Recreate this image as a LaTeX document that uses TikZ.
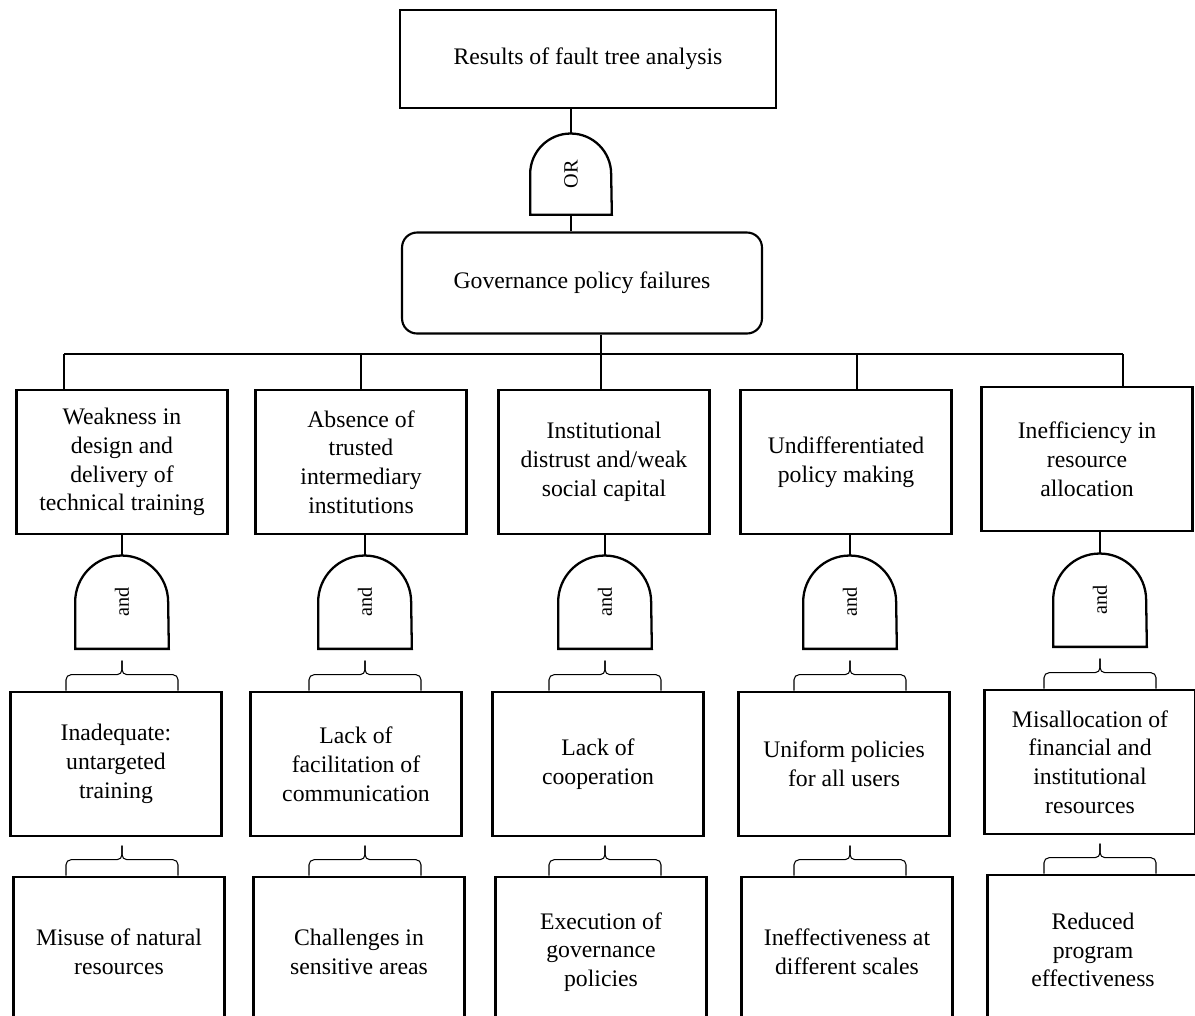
\documentclass[tikz,border=0pt]{standalone}
\usepackage{fontspec}
\setmainfont{Liberation Serif}
\usepackage{graphicx}
\usepackage{tikz}

\begin{document}
\begin{tikzpicture}[x=0.02cm, y=-0.02cm,
	box/.style={rectangle, draw=black, line width=1.5pt, align=center, inner sep=4pt,
	            minimum width=4.22cm, minimum height=2.88cm, font=\fontsize{13.5}{16.4}\selectfont},
	topbox/.style={box, minimum width=7.52cm, minimum height=1.96cm},
	govbox/.style={box, rounded corners=0.3cm, line width=1.2pt, minimum width=7.2cm, minimum height=2.02cm},
	lowbox/.style={box, minimum height=3cm},
	gate/.style={rectangle, inner sep=0pt, minimum width=#1, minimum height=#1,
	             font=\fontsize{11.5}{13}\selectfont},
	gateline/.style={draw=black, line width=1.3pt},
	link/.style={draw=black, line width=0.6pt},
	brc/.pic={
		\draw[link, rounded corners=0.1cm] (-56,0) -- (-56,-16) -- (0,-16) -- (0,-30);
		\draw[link, rounded corners=0.1cm] (56,0) -- (56,-16) -- (0,-16) -- (0,-30);
	}
	]
\useasboundingbox (0,0) rectangle (1195,1015);

% Kopf des Baums
\node[topbox] (top) at (588,59) {Results of fault tree analysis};
\node[gate=1.62cm] (gor) at (571,174) {\rotatebox{90}{OR}};
\node[govbox] (gov) at (582,283) {Governance policy failures};
\draw[gateline] (gor.south west) -- (gor.west) arc[start angle=180, end angle=0, radius=0.81cm] -- (gor.south east) -- cycle;
\draw[link] (top.south -| gor.north) -- (gor.north);
\draw[link] (gor.south) -- (gor.south |- gov.north);

% Ursachen
\node[box] (c1) at (122,462)  {Weakness in\\ design and\\ delivery of\\ technical training};
\node[box] (c2) at (361,462)  {Absence of\\ trusted\\ intermediary\\ institutions};
\node[box] (c3) at (604,462)  {Institutional\\ distrust and/weak\\ social capital};
\node[box] (c4) at (846,462)  {Undifferentiated\\ policy making};
\node[box] (c5) at (1087,459) {Inefficiency in\\ resource\\ allocation};

\coordinate (bus1) at (64,354);
\coordinate (bus2) at (361,354);
\coordinate (bus3) at (601,354);
\coordinate (bus4) at (857,354);
\coordinate (bus5) at (1123,354);
\draw[link] (gov.south -| bus3) -- (bus3);
\draw[link] (bus1) -- (bus5);
\draw[link] (bus1) -- (bus1 |- c1.north);
\draw[link] (bus2) -- (bus2 |- c2.north);
\draw[link] (bus3) -- (bus3 |- c3.north);
\draw[link] (bus4) -- (bus4 |- c4.north);
\draw[link] (bus5) -- (bus5 |- c5.north);

% UND-Gatter
\node[gate=1.86cm] (g1) at (122,602)  {\rotatebox{90}{and}};
\node[gate=1.86cm] (g2) at (365,602)  {\rotatebox{90}{and}};
\node[gate=1.86cm] (g3) at (605,602)  {\rotatebox{90}{and}};
\node[gate=1.86cm] (g4) at (850,602)  {\rotatebox{90}{and}};
\node[gate=1.86cm] (g5) at (1100,600) {\rotatebox{90}{and}};
\draw[gateline] (g1.south west) -- (g1.west) arc[start angle=180, end angle=0, radius=0.93cm] -- (g1.south east) -- cycle;
\draw[gateline] (g2.south west) -- (g2.west) arc[start angle=180, end angle=0, radius=0.93cm] -- (g2.south east) -- cycle;
\draw[gateline] (g3.south west) -- (g3.west) arc[start angle=180, end angle=0, radius=0.93cm] -- (g3.south east) -- cycle;
\draw[gateline] (g4.south west) -- (g4.west) arc[start angle=180, end angle=0, radius=0.93cm] -- (g4.south east) -- cycle;
\draw[gateline] (g5.south west) -- (g5.west) arc[start angle=180, end angle=0, radius=0.93cm] -- (g5.south east) -- cycle;
\draw[link] (g1.north |- c1.south) -- (g1.north);
\draw[link] (g2.north |- c2.south) -- (g2.north);
\draw[link] (g3.north |- c3.south) -- (g3.north);
\draw[link] (g4.north |- c4.south) -- (g4.north);
\draw[link] (g5.north |- c5.south) -- (g5.north);

% zweite Ebene
\node[box] (s1) at (116,764)  {Inadequate:\\ untargeted\\ training};
\node[box] (s2) at (356,764)  {Lack of\\ facilitation of\\ communication};
\node[box] (s3) at (598,764)  {Lack of\\ cooperation};
\node[box] (s4) at (844,764)  {Uniform policies\\ for all users};
\node[box] (s5) at (1090,762) {Misallocation of\\ financial and\\ institutional\\ resources};
\pic at (g1 |- s1.north) {brc};
\pic at (g2 |- s2.north) {brc};
\pic at (g3 |- s3.north) {brc};
\pic at (g4 |- s4.north) {brc};
\pic at (g5 |- s5.north) {brc};

% Folgen
\node[lowbox] (e1) at (119,952)  {Misuse of natural\\ resources};
\node[lowbox] (e2) at (359,952)  {Challenges in\\ sensitive areas};
\node[lowbox] (e3) at (601,952)  {Execution of\\ governance\\ policies};
\node[lowbox] (e4) at (847,952)  {Ineffectiveness at\\ different scales};
\node[lowbox] (e5) at (1093,950) {Reduced\\ program\\ effectiveness};
\pic at (g1 |- e1.north) {brc};
\pic at (g2 |- e2.north) {brc};
\pic at (g3 |- e3.north) {brc};
\pic at (g4 |- e4.north) {brc};
\pic at (g5 |- e5.north) {brc};

\end{tikzpicture}
\end{document}
